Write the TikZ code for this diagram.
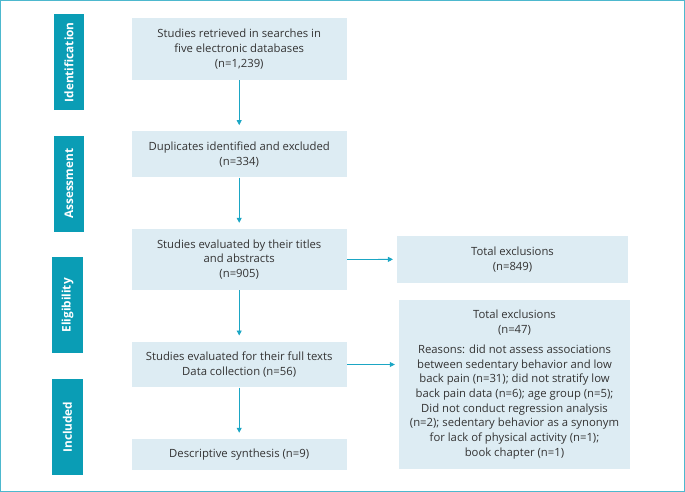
\documentclass[tikz,border=0pt]{standalone}
\usepackage{fontspec}
\setmainfont{Open Sans}
\usetikzlibrary{arrows.meta}
\definecolor{barc}{HTML}{0A9DB5}
\definecolor{boxc}{HTML}{DDECF3}
\definecolor{arrc}{HTML}{1BA6C4}
\definecolor{bordc}{HTML}{4DB8CE}
\definecolor{txtc}{HTML}{333333}
\tikzset{
  x=1pt, y=-1pt,
  bar/.style={fill=barc, draw=none, inner sep=0pt, minimum width=30.8pt, minimum height=96pt},
  barlabel/.style={text=white, font=\bfseries\fontsize{11.8}{13}\selectfont, rotate=90},
  box/.style={fill=boxc, draw=none, inner sep=0pt, align=center, font=\fontsize{11.3}{14.7}\selectfont, text=txtc},
  arr/.style={draw=arrc, line width=0.8pt, -{Triangle[length=5pt,width=5pt]}}
}
\begin{document}
\begin{tikzpicture}
\useasboundingbox (0,0) rectangle (685,492);
\draw[bordc, line width=1pt] (0.5,0.5) rectangle (684.5,491.5);
% side bars
\node[bar] (id) at (68.9,62.3) {};
\node[barlabel] at (id.center) {Identification};
\node[bar] (as) at (68.9,183.8) {};
\node[barlabel] at (as.center) {Assessment};
\node[bar] (el) at (67.5,305.3) {};
\node[barlabel] at (el.center) {Eligibility};
\node[bar] (in) at (67.5,427.1) {};
\node[barlabel] at (in.center) {Included};
% main boxes
\node[box, minimum width=215.4pt, minimum height=61.7pt] (b1) at (239.2,49.15) {Studies retrieved in searches in\\five electronic databases\\(n=1,239)};
\node[box, minimum width=215.4pt, minimum height=46pt] (b2) at (239.2,154.3) {Duplicates identified and excluded\\(n=334)};
\node[box, minimum width=215.4pt, minimum height=61pt] (b3) at (239.2,259.5) {Studies evaluated by their titles\\and abstracts\\(n=905)};
\node[box, minimum width=215.4pt, minimum height=45.6pt] (b4) at (239.2,364.5) {Studies evaluated for their full texts\\Data collection (n=56)};
\node[box, minimum width=215.4pt, minimum height=30.7pt] (b5) at (239.2,454.3) {Descriptive synthesis (n=9)};
\node[box, minimum width=230.7pt, minimum height=46.3pt] (r1) at (512.5,259.35) {Total exclusions\\(n=849)};
\node[box, minimum width=231pt, minimum height=169.3pt] (r2) at (514.5,384.7) {Total exclusions\\(n=47)\\[5pt]Reasons: did not assess associations\\between sedentary behavior and low\\back pain (n=31); did not stratify low\\back pain data (n=6); age group (n=5);\\Did not conduct regression analysis\\(n=2); sedentary behavior as a synonym\\for lack of physical activity (n=1);\\book chapter (n=1)};
% arrows
\draw[arr] (b1.south) -- ([yshift=6pt]b2.north);
\draw[arr] (b2.south) -- ([yshift=6pt]b3.north);
\draw[arr] (b3.south) -- ([yshift=6pt]b4.north);
\draw[arr] (b4.south) -- ([yshift=6pt]b5.north);
\draw[arr] (b3.east) -- ([xshift=-4pt]r1.west);
\draw[arr] (b4.east) -- ([xshift=-4pt]r2.west |- b4.east);
\end{tikzpicture}
\end{document}
